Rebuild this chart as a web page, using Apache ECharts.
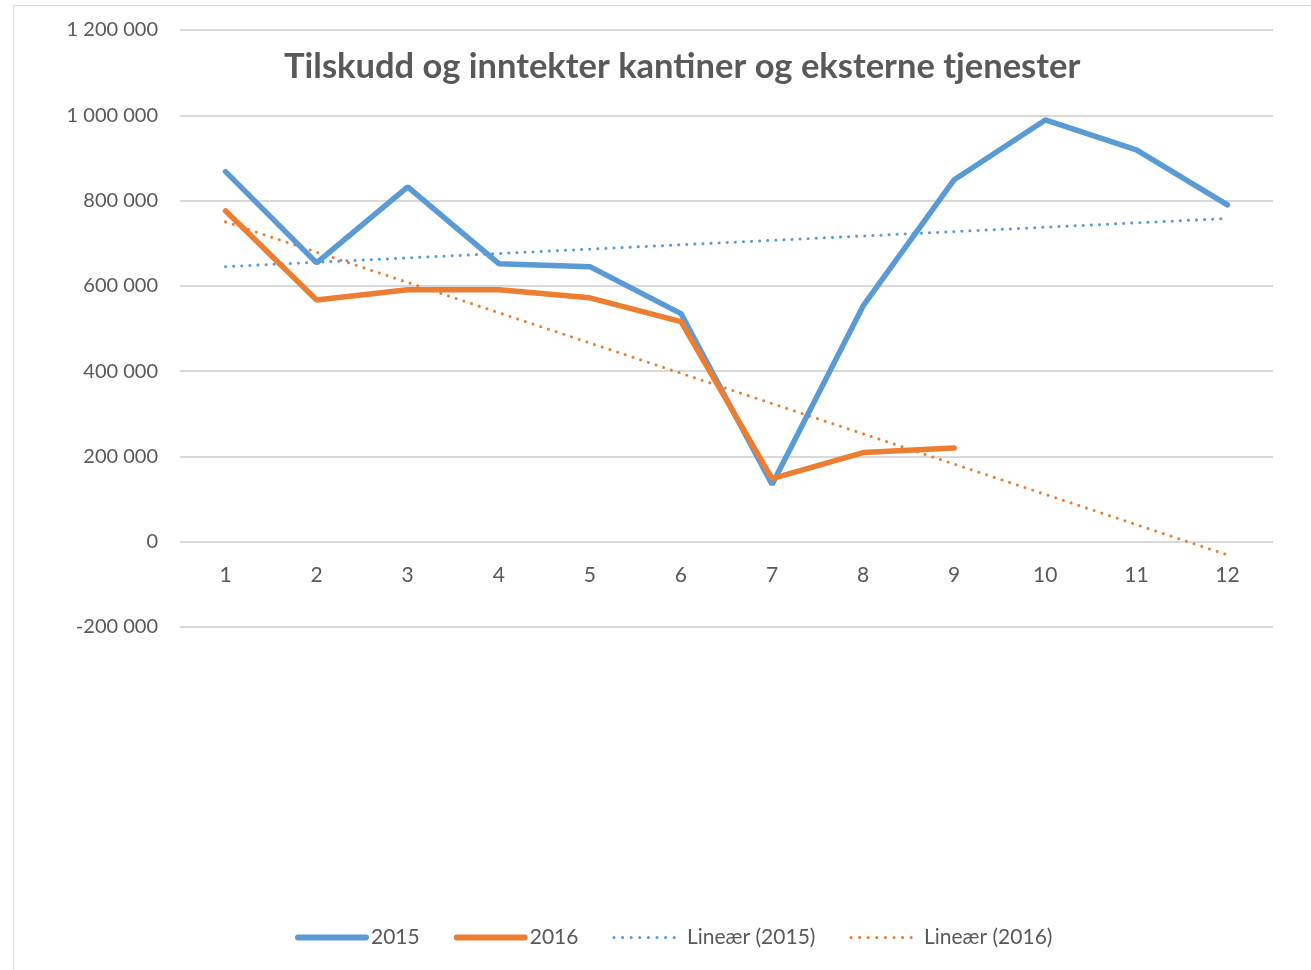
<!DOCTYPE html>
<html>
<head>
<meta charset="utf-8">
<script src="https://cdn.jsdelivr.net/npm/echarts@6/dist/echarts.min.js"></script>
<style>
  html, body { margin: 0; padding: 0; background: #fff; }
  #frame { position: absolute; left: 13px; top: 5px; width: 1400px; height: 1000px; border: 1px solid #d9d9d9; }
  #chart { position: absolute; left: 0; top: 0; width: 1311px; height: 970px; }
</style>
</head>
<body>
<div id="frame"></div>
<div id="chart"></div>
<script>
const months = ['1', '2', '3', '4', '5', '6', '7', '8', '9', '10', '11', '12']
const values2015 = [868000, 654000, 832000, 652000, 645000, 535000, 134000, 553000, 849000, 989000, 919000, 790000]
const values2016 = [776000, 567000, 591000, 591000, 572000, 516000, 148000, 209000, 220000]
// trendlines, only the two ends
const trend2015 = [645000, null, null, null, null, null, null, null, null, null, null, 758000]
const trend2016 = [750000, null, null, null, null, null, null, null, null, null, null, -31000]

const blue = '#5b9bd5'
const orange = '#ed7d31'
const grey = '#595959'
const font = 'Lato'

const chartDom = document.getElementById('chart')
const chartInstance = echarts.init(chartDom)

const fmt = function (v) {
    const s = Math.abs(v).toString().replace(/\B(?=(\d{3})+(?!\d))/g, ' ')
    return (v < 0 ? '-' : '') + s
}

const option = {
    animation: false,
    title: {
        text: 'Tilskudd og inntekter kantiner og eksterne tjenester',
        left: 279,
        top: 44,
        textStyle: { fontFamily: font, fontWeight: 'bold', fontSize: 34.5, color: grey }
    },
    legend: {
        left: 290,
        top: 922,
        itemWidth: 68,
        itemHeight: 12,
        itemGap: 34,
        itemStyle: { opacity: 0 },
        textStyle: { fontFamily: font, fontSize: 21, color: grey },
        data: [
            { name: '2015', lineStyle: { width: 6, cap: 'round' } },
            { name: '2016', lineStyle: { width: 6, cap: 'round' } },
            { name: 'Lineær (2015)', lineStyle: { width: 3, type: [0.1, 8.5], cap: 'round' } },
            { name: 'Lineær (2016)', lineStyle: { width: 3, type: [0.1, 8.5], cap: 'round' } }
        ]
    },
    grid: {
        left: 180,
        right: 38,
        top: 30,
        bottom: 343
    },
    xAxis: {
        type: 'category',
        data: months,
        boundaryGap: true,
        offset: -86,
        axisLine: { onZero: false, show: false },
        axisTick: { show: false },
        axisLabel: { fontFamily: font, fontSize: 21, color: grey, margin: 24 }
    },
    yAxis: {
        type: 'value',
        min: -200000,
        max: 1200000,
        interval: 200000,
        axisLine: { show: false },
        axisTick: { show: false },
        axisLabel: { fontFamily: font, fontSize: 20, color: grey, margin: 22, formatter: fmt },
        splitLine: { lineStyle: { color: '#d9d9d9', width: 2 } }
    },
    series: [
        {
            name: '2015',
            type: 'line',
            symbol: 'none',
            data: values2015,
            itemStyle: { color: blue },
            lineStyle: { color: blue, width: 5.5, cap: 'round' },
            z: 3
        },
        {
            name: '2016',
            type: 'line',
            symbol: 'none',
            data: values2016,
            itemStyle: { color: orange },
            lineStyle: { color: orange, width: 5.5, cap: 'round' },
            z: 4
        },
        {
            name: 'Lineær (2015)',
            type: 'line',
            symbol: 'none',
            connectNulls: true,
            data: trend2015,
            itemStyle: { color: blue },
            lineStyle: { color: blue, width: 3, type: [0.1, 8], cap: 'round' },
            z: 2
        },
        {
            name: 'Lineær (2016)',
            type: 'line',
            symbol: 'none',
            connectNulls: true,
            data: trend2016,
            itemStyle: { color: orange },
            lineStyle: { color: orange, width: 3, type: [0.1, 8], cap: 'round' },
            z: 2
        }
    ]
}

option && chartInstance.setOption(option)
</script>
</body>
</html>
